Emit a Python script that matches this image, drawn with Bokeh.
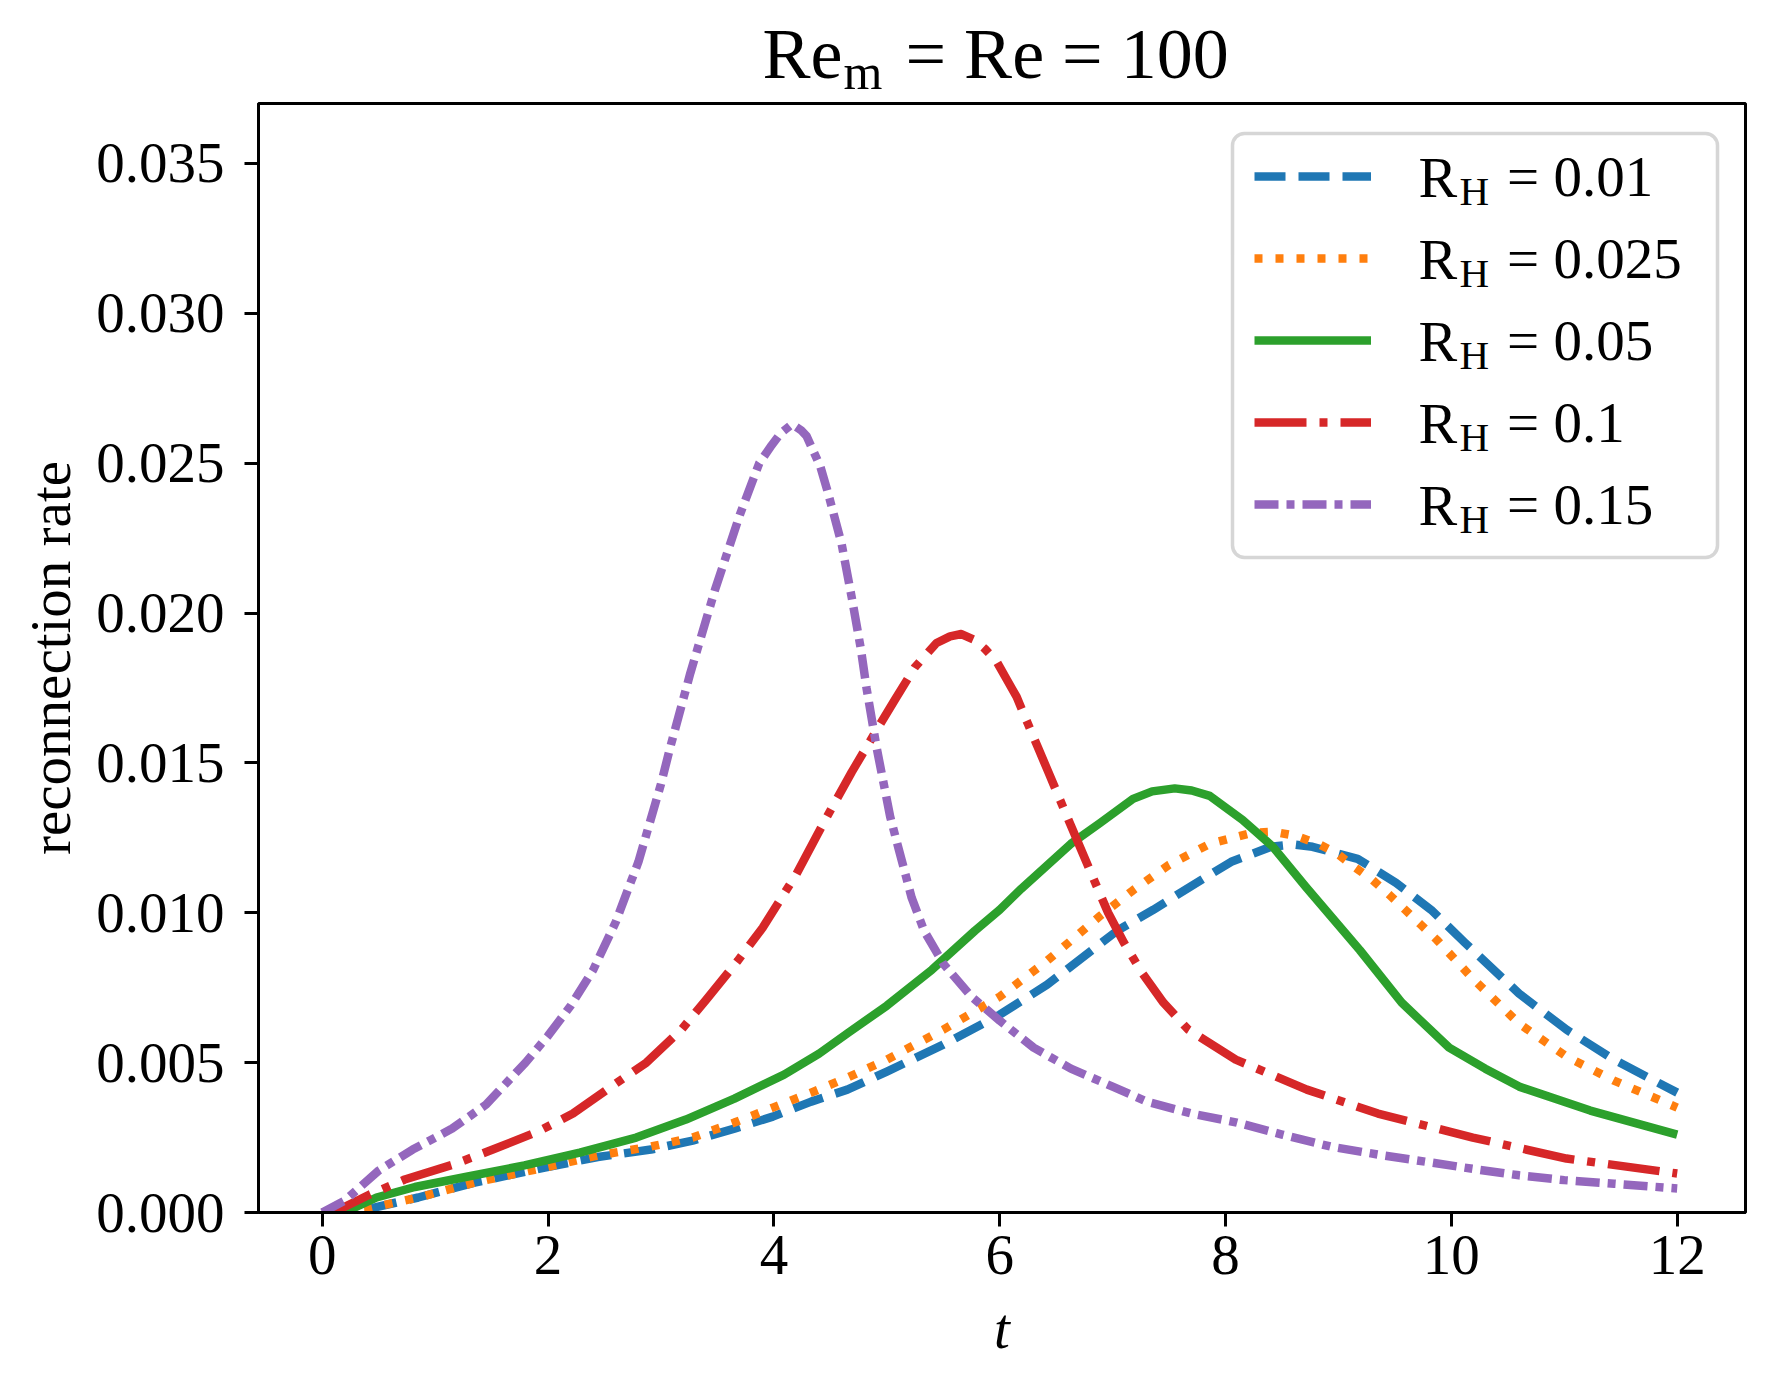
from bokeh.plotting import figure
from bokeh.layouts import column
from bokeh.models import (Range1d, FixedTicker, Legend, LegendItem, Label,
                          BoxAnnotation, PrintfTickFormatter)
from bokeh.embed import file_html
from bokeh.resources import INLINE

# ---------------- data ----------------
t_001 = [0, 0.42, 0.85, 1.35, 1.97, 2.44, 2.91, 3.28, 3.65, 3.99, 4.33, 4.65,
         5.0, 5.5, 6.0, 6.42, 7.04, 7.36, 7.70, 8.05, 8.40, 8.6, 8.77, 9.17,
         9.51, 9.82, 10.12, 10.6, 11.02, 11.44, 12.0]
r_001 = [0, 0.00013, 0.0005, 0.0010, 0.0015, 0.00185, 0.0021, 0.0024, 0.0028,
         0.0032, 0.0037, 0.0041, 0.0047, 0.0056, 0.0066, 0.0076, 0.0094, 0.0101,
         0.0109, 0.0117, 0.0122, 0.01228, 0.0122, 0.0118, 0.0110, 0.0101, 0.0090,
         0.0073, 0.0061, 0.0051, 0.0040]

t_0025 = [0, 0.4, 0.85, 1.35, 1.97, 2.44, 2.91, 3.28, 3.65, 3.99, 4.33, 4.65,
          5.0, 5.5, 6.0, 6.42, 6.89, 7.18, 7.50, 7.86, 8.24, 8.43, 8.63, 8.82,
          8.98, 9.14, 9.30, 9.45, 9.59, 9.73, 9.87, 10.19, 10.6, 11.02, 11.44,
          12.0]
r_0025 = [0, 0.00013, 0.0005, 0.0010, 0.0015, 0.0019, 0.0022, 0.0025, 0.0030,
          0.0035, 0.0040, 0.0045, 0.0051, 0.0061, 0.0072, 0.0084, 0.0099, 0.01075,
          0.0116, 0.0123, 0.01267, 0.0127, 0.01256, 0.0123, 0.0120, 0.01153,
          0.0111, 0.0106, 0.0101, 0.0096, 0.0091, 0.0078, 0.0063, 0.0052, 0.0044,
          0.0035]

t_005 = [0, 0.25, 0.48, 0.82, 1.29, 1.79, 2.28, 2.78, 3.22, 3.65, 4.09, 4.4,
         4.66, 5.0, 5.4, 5.78, 6.0, 6.19, 6.63, 6.89, 7.18, 7.35, 7.55, 7.7,
         7.86, 8.15, 8.42, 8.71, 9.19, 9.56, 9.98, 10.3, 10.6, 11.23, 12.0]
r_005 = [0, 0.0001, 0.0005, 0.00085, 0.0012, 0.00157, 0.0020, 0.0025, 0.0031,
         0.0038, 0.0046, 0.0053, 0.0060, 0.0069, 0.0081, 0.0094, 0.0101, 0.0108,
         0.0123, 0.0130, 0.0138, 0.01405, 0.01415, 0.01408, 0.0139, 0.0131,
         0.0122, 0.01087, 0.00875, 0.0070, 0.0055, 0.0048, 0.0042, 0.0034, 0.0026]

t_01 = [0, 0.15, 0.42, 0.73, 1.16, 1.51, 1.91, 2.22, 2.56, 2.87, 3.18, 3.4,
        3.68, 3.9, 4.2, 4.44, 4.69, 4.91, 5.07, 5.25, 5.44, 5.56, 5.66, 5.78,
        5.87, 5.97, 6.06, 6.15, 6.25, 6.34, 6.43, 6.62, 6.8, 6.96, 7.1, 7.26,
        7.45, 7.67, 8.09, 8.72, 9.35, 10.19, 11.02, 12.0]
r_01 = [0, 0.0001, 0.0006, 0.0011, 0.0016, 0.0021, 0.0027, 0.0033, 0.0042,
        0.0050, 0.0061, 0.0071, 0.0084, 0.0095, 0.0113, 0.0130, 0.0147, 0.0161,
        0.0171, 0.0182, 0.0190, 0.01922, 0.0193, 0.0191, 0.0188, 0.0184, 0.0178,
        0.0172, 0.0163, 0.0155, 0.0147, 0.0130, 0.0114, 0.0100, 0.0090, 0.0080,
        0.0070, 0.0061, 0.0051, 0.0041, 0.0033, 0.0025, 0.0018, 0.0013]

t_015 = [0, 0.2, 0.5, 0.8, 1.15, 1.45, 1.8, 2.0, 2.2, 2.4, 2.6, 2.8, 3.0, 3.08,
         3.26, 3.48, 3.70, 3.87, 3.98, 4.06, 4.16, 4.24, 4.29, 4.35, 4.41, 4.48,
         4.60, 4.69, 4.77, 4.82, 4.91, 5.03, 5.10, 5.22, 5.33, 5.5, 5.75, 6.0,
         6.3, 6.63, 7.0, 7.3, 7.7, 8.1, 8.5, 8.93, 9.4, 9.8, 10.2, 10.6, 11.0,
         11.44, 12.0]
r_015 = [0, 0.0004, 0.0014, 0.0021, 0.0028, 0.0036, 0.0050, 0.0059, 0.0069,
         0.0081, 0.0097, 0.0117, 0.0143, 0.0155, 0.0180, 0.0208, 0.0233, 0.0250,
         0.0256, 0.0260, 0.0263, 0.0261, 0.0259, 0.0254, 0.0249, 0.0240, 0.0223,
         0.0205, 0.0188, 0.0175, 0.0155, 0.0132, 0.0122, 0.0105, 0.0094, 0.0083,
         0.0072, 0.0064, 0.0055, 0.0048, 0.0042, 0.0037, 0.0033, 0.0030, 0.0026,
         0.0022, 0.0019, 0.00168, 0.00145, 0.00124, 0.00108, 0.00096, 0.0008]

series_t = [t_001, t_0025, t_005, t_01, t_015]
series_r = [r_001, r_0025, r_005, r_01, r_015]
rh_values = ["0.01", "0.025", "0.05", "0.1", "0.15"]
colors = ["#1f77b4", "#ff7f0e", "#2ca02c", "#d62728", "#9467bd"]
dashes = ["31 13", "8 13", "solid", "52 13 8 13", "24 8 8 8"]

x_ticks = [0, 2, 4, 6, 8, 10, 12]
y_ticks = [0.0, 0.005, 0.010, 0.015, 0.020, 0.025, 0.030, 0.035]

title_parts = ("Re", "m", "= Re = 100")
x_label = "t"
y_label = "reconnection rate"

# ---------------- geometry ----------------
FONT = "Liberation Serif"
W = 1759
TH = 100                     # height of the title strip
H = 1375 - TH                # main figure height
FL, FR = 258, 1745           # frame left / right (page px)
FT, FB = 103, 1212           # frame top / bottom (page px)
MID = 0.34                   # 'middle' anchor offset above baseline, in em

# ---------------- title strip ----------------
tf = figure(width=W, height=TH, output_backend="svg", toolbar_location=None,
            x_range=Range1d(0, 1), y_range=Range1d(0, 1),
            x_axis_location=None, y_axis_location=None, min_border=0)
tf.outline_line_color = None
tf.xgrid.visible = False
tf.ygrid.visible = False
tf.background_fill_color = "white"
tf.border_fill_color = "white"


def tlabel(page_x, baseline_page, txt, fs):
    # the title strip's frame is aligned with the main frame (left edge FL)
    tf.add_layout(Label(x=page_x - FL, y=TH - baseline_page + MID * fs,
                        x_units="screen", y_units="screen", text=txt,
                        text_font=FONT, text_font_size=f"{fs}px",
                        text_baseline="middle", text_align="left",
                        text_color="black"))


tlabel(762, 78, title_parts[0], 72)
tlabel(843, 88, title_parts[1], 50)
tlabel(905, 78, title_parts[2], 72)

# ---------------- main figure ----------------
top_border = FT - TH
p = figure(width=W, height=H, output_backend="svg", toolbar_location=None,
           x_range=Range1d(-0.565, 12.605), y_range=Range1d(0, 0.037),
           min_border_left=FL, min_border_right=W - FR,
           min_border_top=top_border, min_border_bottom=(TH + H) - FB)
p.background_fill_color = "white"
p.border_fill_color = "white"
p.outline_line_color = "black"
p.outline_line_width = 3
p.outline_line_alpha = 1.0
p.xgrid.visible = False
p.ygrid.visible = False

for ax in (p.xaxis[0], p.yaxis[0]):
    ax.axis_line_color = "black"
    ax.axis_line_width = 3
    ax.major_tick_line_width = 3
    ax.major_tick_line_color = "black"
    ax.major_tick_out = 14
    ax.major_tick_in = 0
    ax.minor_tick_line_color = None
    ax.major_label_text_font = FONT
    ax.major_label_text_font_size = "57px"
    ax.major_label_text_color = "black"
    ax.axis_label_text_font = FONT
    ax.axis_label_text_font_size = "57px"
    ax.axis_label_text_color = "black"

p.xaxis.ticker = FixedTicker(ticks=x_ticks)
p.yaxis.ticker = FixedTicker(ticks=y_ticks)
p.yaxis.formatter = PrintfTickFormatter(format="%.3f")
p.xaxis.major_label_standoff = 9
p.yaxis.major_label_standoff = 20
p.xaxis.axis_label = x_label
p.xaxis.axis_label_text_font_style = "italic"
p.xaxis.axis_label_standoff = 20
p.yaxis.axis_label = y_label
p.yaxis.axis_label_text_font_style = "normal"
p.yaxis.axis_label_standoff = 11

renderers = []
for tt, rr, c, d in zip(series_t, series_r, colors, dashes):
    r = p.line(tt, rr, line_color=c, line_width=8.5, line_dash=d,
               line_join="round", line_cap="butt")
    renderers.append(r)

# ---------------- legend ----------------
def fx(page_x):
    return page_x - FL


def fy(page_y):
    return FB - page_y


box = BoxAnnotation(left=fx(1232), right=fx(1717), bottom=fy(557), top=fy(133),
                    left_units="screen", right_units="screen",
                    bottom_units="screen", top_units="screen",
                    fill_color="white", fill_alpha=0.8,
                    line_color="#cccccc", line_alpha=0.8, line_width=3.5,
                    border_radius=12, level="annotation")
p.add_layout(box)

ROW0, PITCH, ITEM_H, SPACING = 176, 82, 70, 12
leg_bottom_page = ROW0 - ITEM_H / 2 + 5 * ITEM_H + 4 * SPACING
items = [LegendItem(label="= " + v, renderers=[r]) for v, r in zip(rh_values, renderers)]
legend = Legend(items=items, location=(fx(1254), fy(leg_bottom_page)),
                orientation="vertical", padding=0, margin=0, spacing=SPACING,
                glyph_width=117, glyph_height=ITEM_H, label_height=ITEM_H,
                label_standoff=136,
                label_text_font=FONT, label_text_font_size="57px",
                label_text_color="black",
                background_fill_alpha=0, border_line_color=None)
p.add_layout(legend, "center")

for k in range(len(rh_values)):
    p.add_layout(Label(x=fx(1418), y=fy(197 + PITCH * k) + MID * 58,
                       x_units="screen", y_units="screen",
                       text="R", text_font=FONT, text_font_size="58px",
                       text_baseline="middle", text_color="black"))
    p.add_layout(Label(x=fx(1459), y=fy(204 + PITCH * k) + MID * 41,
                       x_units="screen", y_units="screen",
                       text="H", text_font=FONT, text_font_size="41px",
                       text_baseline="middle", text_color="black"))

layout = column(tf, p, spacing=0)
open("out.html", "w").write(file_html(layout, INLINE))
